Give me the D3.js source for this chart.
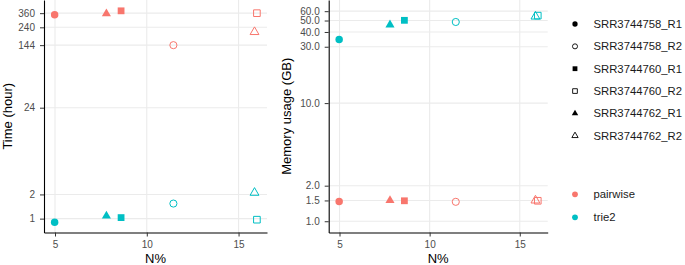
<!DOCTYPE html>
<html>
<head>
<meta charset="utf-8">
<script src="https://cdn.jsdelivr.net/npm/d3@7"></script>
<style>
  body { margin: 0; background: #fff; }
  svg { font-family: "Liberation Sans", Arial, sans-serif; }
  .tick text { fill: #4d4d4d; font-size: 10px; }
  .tick line { stroke: #333; }
  .domain { stroke: #000; }
  .title { font-size: 13px; fill: #000; }
  .legend text { font-size: 11.3px; fill: #1a1a1a; }
</style>
</head>
<body>
<svg width="685" height="265"></svg>
<script>
// **** Data ****
var samples = ["SRR3744758_R1", "SRR3744758_R2", "SRR3744760_R1",
               "SRR3744760_R2", "SRR3744762_R1", "SRR3744762_R2"];
var methods = ["pairwise", "trie2"];
var nPct = [4.98, 11.45, 8.6, 16.0, 7.8, 15.87];

var timePairwise = [345, 144, 385, 360, 355, 210];
var timeTrie2 = [0.90, 1.54, 1.03, 0.97, 1.08, 2.1];
var memPairwise = [1.47, 1.46, 1.49, 1.49, 1.50, 1.50];
var memTrie2 = [34.5, 48.6, 50.2, 55.0, 46.0, 54.1];

var xTicks = [5, 10, 15];
var timeTicks = [1, 2, 24, 144, 240, 360];
var memTicks = [1, 1.5, 2, 10, 30, 40, 50, 60];

// shapes per sample (ggplot 16, 1, 15, 0, 17, 2)
var shapeType = [d3.symbolCircle, d3.symbolCircle, d3.symbolSquare,
                 d3.symbolSquare, d3.symbolTriangle, d3.symbolTriangle];
var shapeFilled = [true, false, true, false, true, false];
var shapeSize = [44, 40, 46, 44, 36, 34];

var colour = d3.scaleOrdinal().domain(methods).range(["#F8766D", "#00BFC4"]);

var svg = d3.select("svg");

// build a flat table for each panel
function rows(pairwise, trie2) {
    var out = [];
    samples.forEach(function(s, i) {
        out.push({ sample: i, method: "pairwise", x: nPct[i], y: pairwise[i] });
        out.push({ sample: i, method: "trie2", x: nPct[i], y: trie2[i] });
    });
    return out;
}

function drawPanel(opts) {
    var x = d3.scaleLinear().domain([4.4, 16.55]).range([opts.left, opts.right]);
    var y = d3.scaleLog().domain(opts.yDomain).range([opts.bottom, opts.top]);

    var g = svg.append("g");

    // grid lines
    g.selectAll("line.gx").data(xTicks).enter().append("line")
        .attr("x1", function(d) { return x(d); }).attr("x2", function(d) { return x(d); })
        .attr("y1", opts.top).attr("y2", opts.bottom)
        .attr("stroke", "#ebebeb").attr("stroke-width", 1.1);
    g.selectAll("line.gy").data(opts.ticks).enter().append("line")
        .attr("y1", function(d) { return y(d); }).attr("y2", function(d) { return y(d); })
        .attr("x1", opts.left).attr("x2", opts.right)
        .attr("stroke", "#ebebeb").attr("stroke-width", 1.1);

    // axes
    g.append("g").attr("transform", "translate(0," + opts.bottom + ")")
        .call(d3.axisBottom(x).tickValues(xTicks).tickSize(4).tickSizeOuter(0).tickPadding(4))
        .call(function(a) { a.selectAll("text").attr("font-size", null).attr("font-family", null); });
    g.append("g").attr("transform", "translate(" + opts.left + ",0)")
        .call(d3.axisLeft(y).tickValues(opts.ticks).tickFormat(opts.fmt)
            .tickSize(4).tickSizeOuter(0).tickPadding(5))
        .call(function(a) { a.selectAll("text").attr("font-size", null).attr("font-family", null); });
    g.selectAll(".domain").attr("stroke-width", 1.1);

    // points
    g.selectAll("path.pt").data(opts.data).enter().append("path")
        .attr("class", "pt")
        .attr("transform", function(d) { return "translate(" + x(d.x) + "," + y(d.y) + ")"; })
        .attr("d", function(d) { return d3.symbol().type(shapeType[d.sample]).size(shapeSize[d.sample])(); })
        .attr("fill", function(d) { return shapeFilled[d.sample] ? colour(d.method) : "none"; })
        .attr("stroke", function(d) { return shapeFilled[d.sample] ? "none" : colour(d.method); })
        .attr("stroke-width", 1);

    // titles
    svg.append("text").attr("class", "title")
        .attr("x", (opts.left + opts.right) / 2).attr("y", 263)
        .attr("text-anchor", "middle").text("N%");
    svg.append("text").attr("class", "title")
        .attr("transform", "translate(" + opts.titleX + "," + (opts.top + opts.bottom) / 2 + ") rotate(-90)")
        .attr("text-anchor", "middle").text(opts.yTitle);
}

drawPanel({
    left: 44, right: 267, top: 0, bottom: 232.5,
    yDomain: [0.672, 525], ticks: timeTicks, fmt: d3.format("d"),
    data: rows(timePairwise, timeTrie2), yTitle: "Time (hour)", titleX: 11.5
});

drawPanel({
    left: 328.7, right: 547.7, top: 0, bottom: 232.5,
    yDomain: [0.803, 74.6], ticks: memTicks, fmt: d3.format(".1f"),
    data: rows(memPairwise, memTrie2), yTitle: "Memory usage (GB)", titleX: 290.5
});

// **** Legends ****
var leg = svg.append("g").attr("class", "legend");
var shapeLeg = leg.selectAll("g.s").data(samples).enter().append("g")
    .attr("transform", function(d, i) { return "translate(575," + (24 + i * 22.35) + ")"; });
shapeLeg.append("path")
    .attr("d", function(d, i) { return d3.symbol().type(shapeType[i]).size(shapeSize[i] * 0.5)(); })
    .attr("fill", function(d, i) { return shapeFilled[i] ? "#000" : "none"; })
    .attr("stroke", function(d, i) { return shapeFilled[i] ? "none" : "#000"; })
    .attr("stroke-width", 0.9);
shapeLeg.append("text").attr("x", 18.5).attr("dy", "0.36em").text(function(d) { return d; });

var colLeg = leg.selectAll("g.c").data(methods).enter().append("g")
    .attr("transform", function(d, i) { return "translate(575," + (194.3 + i * 23) + ")"; });
colLeg.append("path")
    .attr("d", d3.symbol().type(d3.symbolCircle).size(26)())
    .attr("fill", function(d) { return colour(d); });
colLeg.append("text").attr("x", 18.5).attr("dy", "0.36em").text(function(d) { return d; });
</script>
</body>
</html>
